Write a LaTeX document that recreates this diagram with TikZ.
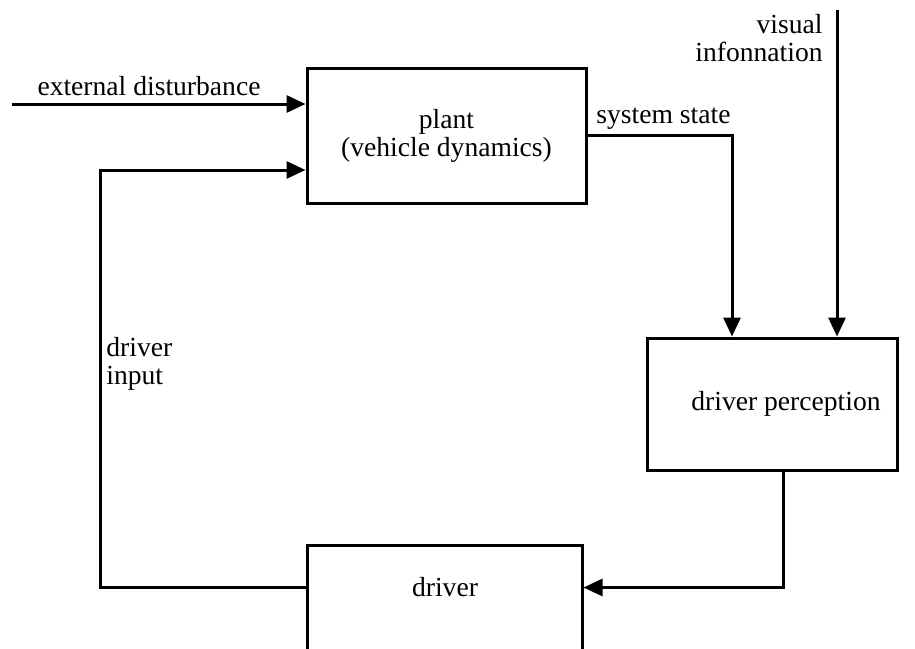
\documentclass[tikz,border=0pt]{standalone}
\usepackage{fontspec}
\setmainfont{Liberation Serif}
\usetikzlibrary{arrows.meta,positioning}

\begin{document}
\begin{tikzpicture}[
  x=0.5pt, y=-0.5pt,
  font=\fontsize{13.8}{14}\selectfont,
  >={Triangle[length=9.5pt,width=8.5pt]},
  block/.style={draw, line width=1.5pt, inner sep=0pt, align=center},
  arr/.style={->, line width=1.5pt},
  lbl/.style={inner sep=0pt},
]
\useasboundingbox (0,0) rectangle (915,648);
\clip (0,0) rectangle (915,648);
% blocks
\node[block, minimum width=139.5pt, minimum height=67.5pt] (plant) at (446.5,135.5) {plant\\(vehicle dynamics)};
\node[block, minimum width=125pt, minimum height=66pt] (percep) at (772,404) {\hspace*{14pt}driver perception};
\node[block, minimum width=137.5pt, minimum height=57.5pt] (driver) at (444.5,602.5) {};
\node[lbl] (drivertxt) at (445,587) {driver};
% free ends
\coordinate (dist) at (12,104);
\coordinate (vis) at (837,10);
\coordinate (inp) at (100,170);
% connectors
\draw[arr] (dist) -- (dist -| plant.west);
\draw[arr] (plant.east) -| ([xshift=-20pt]percep.north);
\draw[arr] (vis) -- (vis |- percep.north);
\draw[arr] ([xshift=5.5pt]percep.south) |- ([yshift=7.5pt]driver.east);
\draw[arr] ([yshift=7.5pt]driver.west) -| (inp) -- (inp -| plant.west);
% labels
\node[lbl] (distlbl) at (149,86) {external disturbance};
\node[lbl, anchor=south west] (sslbl) at (596,130) {system state};
\node[lbl, anchor=east, align=right] (vislbl) at (823,38) {visual\\infonnation};
\node[lbl, anchor=west, align=left] (inplbl) at (106,364) {driver\\input};
\end{tikzpicture}
\end{document}
